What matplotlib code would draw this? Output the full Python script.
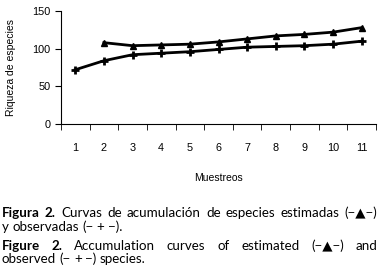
import matplotlib.pyplot as plt
import numpy as np

# datos
muestreos = [1, 2, 3, 4, 5, 6, 7, 8, 9, 10, 11]
observadas = [72, 84, 92, 94, 96, 99, 102, 103, 104, 106, 110]
est_x = [2, 3, 4, 5, 6, 7, 8, 9, 10, 11]
estimadas = [108, 104, 105, 106, 109, 113, 117, 119, 122, 128]

narrow = ['Liberation Sans', 'DejaVu Sans']

fig = plt.figure(figsize=(3.83, 2.70), dpi=100)
ax = fig.add_axes([0.159, 0.541, 0.823, 0.418])

ax.plot(est_x, estimadas, color='black', lw=2, marker='^', ms=5)
ax.plot(muestreos, observadas, color='black', lw=2, marker='+', ms=6, mew=2)

ax.set_xlim(0.5, 11.5)
ax.set_ylim(0, 150)
ax.set_yticks([0, 50, 100, 150])
ax.set_xticks(muestreos)
ax.set_xticks(np.arange(0.5, 12, 1), minor=True)
ax.tick_params(axis='x', which='major', length=0, pad=14)
ax.tick_params(axis='x', which='minor', length=4, direction='out')
ax.tick_params(axis='y', length=4, direction='out')
for lab in ax.get_xticklabels() + ax.get_yticklabels():
    lab.set_family(narrow)
    lab.set_fontsize(7.8)
ax.spines['top'].set_visible(False)
ax.spines['right'].set_visible(False)

ax.set_xlabel('Muestreos', family=narrow, fontsize=7.5, labelpad=14)
ax.set_ylabel('Riqueza de especies', family=narrow, fontsize=7.5, labelpad=12)

cap = dict(fontsize=9.6, family=['Lato', 'DejaVu Sans'], va='center')
x0, x1 = 0.005, 0.985
renderer = fig.canvas.get_renderer()


def width(s, **kw):
    t = fig.text(0, 0, s, **kw)
    w = t.get_window_extent(renderer).width / fig.bbox.width
    t.remove()
    return w


def line(words, y, justify, bold_n=0):
    # words drawn one by one so the line can be justified
    texts = []
    for i, w in enumerate(words):
        t = fig.text(x0, y, w, fontweight='bold' if i < bold_n else 'normal', **cap)
        texts.append(t)
    widths = [t.get_window_extent(renderer).width / fig.bbox.width for t in texts]
    if justify:
        gap = (x1 - x0 - sum(widths)) / (len(words) - 1)
    else:
        gap = width('a a', **cap) - 2 * width('a', **cap)
    x = x0
    for t, w in zip(texts, widths):
        t.set_x(x)
        x += w + gap


line(['Figura', '2.', 'Curvas', 'de', 'acumulación', 'de', 'especies', 'estimadas', '(−▲−)'],
     1 - 213 / 270, True, bold_n=2)
line(['y', 'observadas', '(−', '+', '−).'], 1 - 227 / 270, False)
line(['Figure', '2.', 'Accumulation', 'curves', 'of', 'estimated', '(−▲−)', 'and'],
     1 - 246 / 270, True, bold_n=2)
line(['observed', '(−', '+', '−)', 'species.'], 1 - 259 / 270, False)

fig.savefig('out.png', dpi=100)
